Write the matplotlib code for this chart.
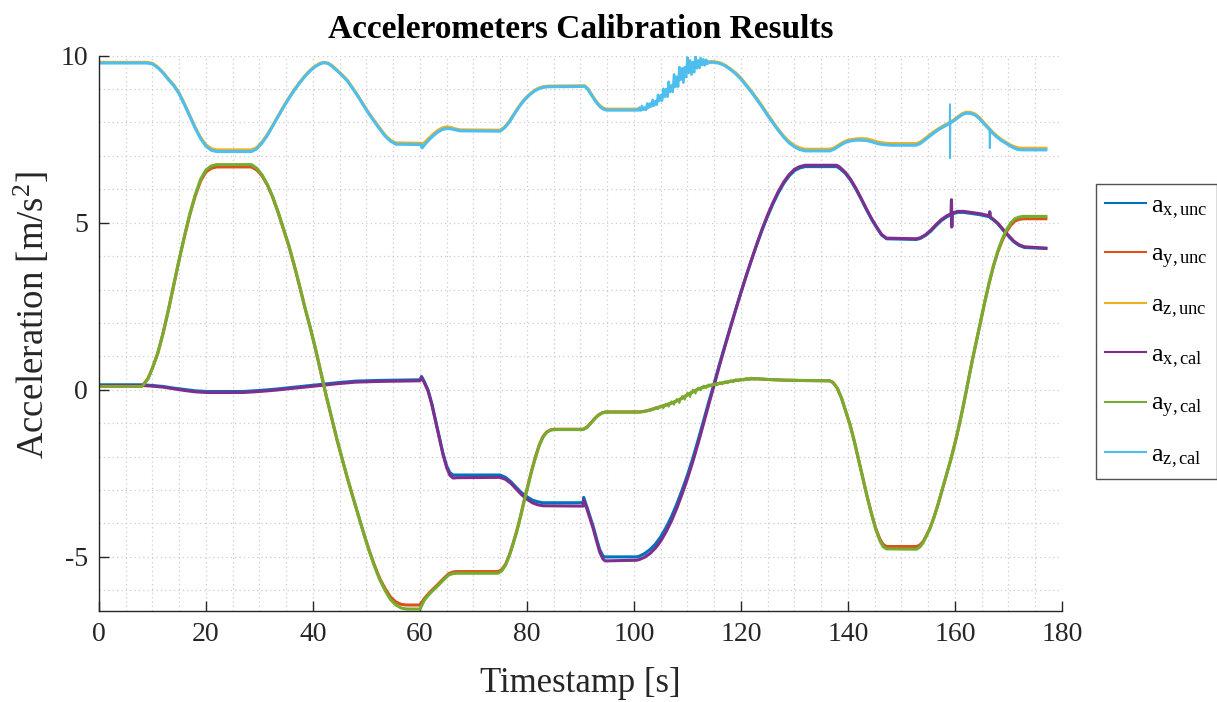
import numpy as np
import matplotlib
matplotlib.use("Agg")
import matplotlib.pyplot as plt

plt.rcParams['font.family'] = ['Liberation Serif', 'DejaVu Serif']
plt.rcParams['mathtext.fontset'] = 'custom'
plt.rcParams['mathtext.rm'] = 'Liberation Serif'
plt.rcParams['mathtext.it'] = 'Liberation Serif:italic'
plt.rcParams['axes.unicode_minus'] = False

# ---- x axis accelerometer [m/s^2] ----
t_x = [0, 8, 10, 12, 14, 16, 18, 20, 27, 30, 33, 36, 39, 42, 45, 48, 52,
       60.0, 60.3, 60.8, 61.5, 62.2, 62.9, 63.6, 64.3, 65.0, 65.6, 66.2, 66.9,
       75.0, 76.0, 77.0, 78.0, 79.0, 80.0, 81.0, 82.0, 83.0,
       90.5, 90.6, 91.2, 91.8, 92.4, 93.0, 93.6, 94.2, 94.6,
       100.5, 101, 102, 103, 104, 105, 106, 107, 108, 109, 110, 111, 112, 113,
       114, 115, 116, 117, 118, 119, 120, 121, 122, 123, 124, 125, 126, 127,
       128, 129, 130, 131, 132,
       137.9, 138.5, 139.5, 140.5, 141.5, 142.5, 143.5, 144.5, 145.5, 146.3, 147.2,
       152.8, 153.5, 154.5, 155.5, 156.5, 157.5, 158.5, 159.3, 159.35, 159.4,
       159.45, 160.5, 161.6, 163, 164.7, 166.4, 166.5, 166.6, 167.2, 168, 169,
       170, 171, 172, 173, 177]
ax_unc = [0.15, 0.15, 0.13, 0.10, 0.05, 0.01, -0.03, -0.05, -0.05, -0.02, 0.02,
          0.07, 0.12, 0.17, 0.22, 0.26, 0.28,
          0.30, 0.40, 0.25, 0.00, -0.40, -0.90, -1.40, -1.90, -2.28, -2.48, -2.55, -2.55,
          -2.55, -2.62, -2.75, -2.92, -3.08, -3.20, -3.30, -3.35, -3.38,
          -3.38, -3.22, -3.50, -3.80, -4.10, -4.45, -4.78, -4.97, -5.00,
          -5.00, -4.98, -4.90, -4.78, -4.62, -4.40, -4.12, -3.80, -3.42, -3.00,
          -2.55, -2.05, -1.50, -0.93, -0.35, 0.20, 0.78, 1.33, 1.87, 2.40, 2.92,
          3.42, 3.90, 4.36, 4.80, 5.20, 5.57, 5.90, 6.18, 6.40, 6.56, 6.64, 6.68,
          6.68, 6.62, 6.48, 6.27, 6.00, 5.70, 5.38, 5.08, 4.82, 4.63, 4.52,
          4.50, 4.53, 4.62, 4.75, 4.92, 5.07, 5.18, 5.24, 5.65, 4.90, 5.26, 5.31,
          5.31, 5.28, 5.24, 5.18, 5.30, 5.15, 5.08, 4.97, 4.78, 4.60, 4.43, 4.32,
          4.26, 4.23]
ax_cal = [0.13, 0.13, 0.11, 0.08, 0.03, -0.02, -0.06, -0.08, -0.08, -0.05, -0.01,
          0.04, 0.09, 0.14, 0.19, 0.23, 0.25,
          0.27, 0.37, 0.22, -0.03, -0.43, -0.93, -1.43, -1.93, -2.33, -2.56, -2.64, -2.63,
          -2.62, -2.68, -2.80, -2.97, -3.14, -3.27, -3.38, -3.44, -3.47,
          -3.48, -3.30, -3.56, -3.86, -4.16, -4.52, -4.86, -5.06, -5.12,
          -5.10, -5.08, -5.01, -4.90, -4.74, -4.53, -4.25, -3.93, -3.55, -3.12,
          -2.66, -2.15, -1.60, -1.02, -0.43, 0.14, 0.73, 1.29, 1.84, 2.38, 2.91,
          3.42, 3.91, 4.38, 4.83, 5.24, 5.61, 5.94, 6.22, 6.44, 6.60, 6.68, 6.72,
          6.72, 6.66, 6.51, 6.30, 6.03, 5.72, 5.40, 5.10, 4.84, 4.65, 4.54,
          4.52, 4.55, 4.64, 4.78, 4.95, 5.10, 5.21, 5.27, 5.69, 4.87, 5.29, 5.34,
          5.34, 5.31, 5.27, 5.21, 5.33, 5.18, 5.10, 4.99, 4.80, 4.62, 4.45, 4.34,
          4.28, 4.24]

# ---- y axis accelerometer ----
t_y = [0, 8, 8.5, 9.2, 10, 11, 12, 13, 14, 15, 16, 17, 18, 19, 20, 21, 22,
       28.5, 29.5, 30.5, 31.5, 32.5, 33.5, 34.5, 35.5, 36.5, 37.5, 38.5, 39.5,
       40.5, 41.5, 42.5, 43.5, 44.5, 45.5, 46.5, 47.5, 48.5, 49.5, 50.5, 51.5,
       52.5, 53.5, 54.5, 55.5, 56.5, 57.5,
       60.0, 60.2, 60.8, 61.5, 62.2, 63.0, 63.8, 64.6, 65.4, 66.2, 67.0,
       74.6, 75.3, 76.0, 76.7, 77.4, 78.1, 78.8, 79.5, 80.2, 80.9, 81.6, 82.3,
       83.0, 83.7, 84.4, 85.0,
       90.5, 91.2, 91.9, 92.6, 93.3, 94.0, 94.7,
       101, 102, 103, 104, 105, 106, 107, 108, 109, 110, 111, 112, 113, 114,
       115, 116, 117, 118, 119, 120, 121, 122, 123,
       125, 128, 131, 136.6,
       137.2, 138, 138.8, 139.6, 140.4, 141.2, 142, 142.8, 143.6, 144.4, 145.2,
       146, 146.6, 147.2,
       152.8, 153.4, 154, 154.6, 155.3, 156, 156.8, 157.6, 158.4, 159.2, 160,
       160.8, 161.6, 162.4, 163.2, 164, 164.8, 165.6, 166.4, 167.2, 168, 168.8,
       169.6, 170.4, 171.2, 172, 172.8, 177]
ay_unc = [0.12, 0.12, 0.20, 0.35, 0.65, 1.10, 1.70, 2.40, 3.15, 3.90, 4.60, 5.25,
          5.80, 6.25, 6.52, 6.63, 6.67,
          6.67, 6.58, 6.40, 6.12, 5.75, 5.30, 4.80, 4.30, 3.72, 3.10, 2.45, 1.85,
          1.20, 0.50, -0.20, -0.85, -1.50, -2.10, -2.68, -3.23, -3.76, -4.30,
          -4.80, -5.25, -5.65, -5.95, -6.20, -6.35, -6.42, -6.44,
          -6.44, -6.40, -6.25, -6.12, -6.00, -5.88, -5.75, -5.62, -5.50, -5.45, -5.44,
          -5.44, -5.38, -5.22, -4.95, -4.60, -4.22, -3.78, -3.30, -2.85, -2.40,
          -2.00, -1.65, -1.40, -1.26, -1.20, -1.18,
          -1.18, -1.12, -1.00, -0.87, -0.76, -0.69, -0.66,
          -0.66, -0.64, -0.60, -0.55, -0.50, -0.45, -0.40, -0.33, -0.25, -0.15,
          -0.06, 0.02, 0.08, 0.12, 0.16, 0.19, 0.22, 0.25, 0.28, 0.30, 0.32, 0.33, 0.33,
          0.31, 0.29, 0.28, 0.27,
          0.22, 0.05, -0.25, -0.65, -1.05, -1.55, -2.10, -2.65, -3.20, -3.70, -4.15,
          -4.48, -4.63, -4.69,
          -4.69, -4.65, -4.55, -4.38, -4.15, -3.85, -3.45, -3.00, -2.55, -2.10, -1.60,
          -1.05, -0.45, 0.20, 0.85, 1.45, 2.05, 2.65, 3.20, 3.70, 4.12, 4.45, 4.72,
          4.92, 5.05, 5.10, 5.12, 5.12]
ay_cal = [0.10, 0.10, 0.18, 0.34, 0.65, 1.10, 1.70, 2.40, 3.15, 3.90, 4.61, 5.27,
          5.84, 6.30, 6.58, 6.70, 6.74,
          6.74, 6.63, 6.43, 6.14, 5.77, 5.32, 4.82, 4.32, 3.74, 3.12, 2.47, 1.87,
          1.22, 0.52, -0.18, -0.83, -1.48, -2.08, -2.67, -3.22, -3.76, -4.31,
          -4.82, -5.28, -5.69, -6.01, -6.28, -6.44, -6.53, -6.56,
          -6.56, -6.50, -6.30, -6.16, -6.04, -5.92, -5.79, -5.66, -5.54, -5.50, -5.49,
          -5.49, -5.42, -5.25, -4.97, -4.62, -4.24, -3.80, -3.32, -2.87, -2.42,
          -2.02, -1.67, -1.42, -1.27, -1.21, -1.19,
          -1.19, -1.13, -1.01, -0.88, -0.77, -0.70, -0.67,
          -0.67, -0.65, -0.61, -0.56, -0.51, -0.46, -0.40, -0.33, -0.25, -0.15,
          -0.06, 0.02, 0.08, 0.12, 0.16, 0.19, 0.22, 0.25, 0.28, 0.30, 0.32, 0.33, 0.33,
          0.31, 0.29, 0.28, 0.27,
          0.22, 0.05, -0.25, -0.65, -1.05, -1.55, -2.10, -2.65, -3.21, -3.72, -4.18,
          -4.53, -4.70, -4.76,
          -4.77, -4.71, -4.59, -4.40, -4.16, -3.86, -3.45, -3.00, -2.55, -2.10, -1.60,
          -1.05, -0.45, 0.20, 0.85, 1.45, 2.05, 2.65, 3.21, 3.72, 4.15, 4.50, 4.78,
          4.99, 5.12, 5.17, 5.19, 5.19]

# calibrated y: jitter while slowly rising (104-123 s)
t_y_noise = [104.0, 104.5, 105.0, 105.5, 106.0, 106.5, 107.0, 107.5, 108.0,
             108.5, 109.0, 109.5, 110.0, 110.5, 111.0, 111.5, 112.0, 112.5,
             113.0, 113.5, 114.0, 114.5, 115.0, 115.5, 116.0, 116.5, 117.0,
             117.5, 118.0, 118.5, 119.0, 119.5, 120.0, 120.5, 121.0, 121.5,
             122.0, 122.5, 123.0]
ay_cal_noise = [-0.52, -0.58, -0.47, -0.56, -0.41, -0.51, -0.34, -0.45, -0.27,
                -0.40, -0.18, -0.30, -0.08, -0.22, 0.01, -0.12, 0.07, -0.02,
                0.13, 0.04, 0.17, 0.09, 0.20, 0.13, 0.23, 0.16, 0.26, 0.19,
                0.29, 0.22, 0.32, 0.25, 0.34, 0.27, 0.36, 0.29, 0.37, 0.30, 0.35]

# ---- z axis accelerometer ----
t_z = [0, 9, 10, 11, 12, 13, 14, 15, 16, 17, 18, 19, 20, 21, 22,
       28.5, 29.5, 30.5, 31.5, 32.5, 33.5, 34.5, 35.5, 36.5, 37.5, 38.5, 39.5,
       40.5, 41.3, 42, 42.8, 43.6, 44.5, 45.5, 46.5, 47.5, 48.5, 49.5, 50.5,
       51.5, 52.5, 53.5, 54.5, 55.5,
       60.2, 60.4, 61, 61.8, 62.6, 63.4, 64.2, 65, 65.8, 66.6, 67.5,
       75, 75.8, 76.6, 77.4, 78.2, 79, 79.8, 80.6, 81.4, 82.2, 83, 84,
       90.8, 91.4, 92, 92.6, 93.2, 93.8, 94.4, 95,
       100.8, 102, 103, 104, 105, 106, 107, 108, 109, 110, 111, 112, 113, 114,
       115, 116, 117, 118, 119, 120, 121, 122, 123, 124, 125, 126, 127, 128,
       129, 130, 131, 132,
       136.6, 137.4, 138.2, 139, 139.8, 140.6, 141.5, 142.5, 143.5, 144.5,
       145.5, 146.5, 148,
       152.8, 153.6, 154.4, 155.2, 156, 156.8, 157.6, 158.4, 159, 159.8, 160.6,
       161.4, 162.2, 163, 163.8, 164.6, 165.4, 166.2, 167, 167.8, 168.6, 169.4,
       170.2, 171, 171.8, 172.6, 177]
az_unc = [9.80, 9.80, 9.77, 9.66, 9.50, 9.30, 9.12, 8.88, 8.55, 8.20, 7.85, 7.55,
          7.33, 7.22, 7.18,
          7.18, 7.25, 7.42, 7.65, 7.92, 8.20, 8.48, 8.74, 8.98, 9.20, 9.40, 9.57,
          9.70, 9.77, 9.80, 9.78, 9.70, 9.57, 9.42, 9.25, 9.02, 8.78, 8.52, 8.27,
          8.05, 7.83, 7.62, 7.47, 7.39,
          7.38, 7.35, 7.42, 7.55, 7.67, 7.77, 7.84, 7.87, 7.85, 7.81, 7.78,
          7.77, 7.86, 8.01, 8.21, 8.41, 8.59, 8.74, 8.86, 8.96, 9.03, 9.07, 9.09,
          9.10, 9.01, 8.86, 8.71, 8.58, 8.48, 8.42, 8.40,
          8.40, 8.43, 8.51, 8.61, 8.74, 8.89, 9.06, 9.23, 9.41, 9.56, 9.67, 9.75,
          9.80, 9.82, 9.82, 9.79, 9.72, 9.61, 9.49, 9.33, 9.13, 8.93, 8.71, 8.48,
          8.24, 8.01, 7.79, 7.59, 7.43, 7.31, 7.24, 7.20,
          7.20, 7.24, 7.32, 7.40, 7.46, 7.49, 7.51, 7.52, 7.51, 7.47, 7.42, 7.39, 7.37,
          7.37, 7.42, 7.52, 7.62, 7.72, 7.80, 7.88, 7.95, 8.00, 8.08, 8.18, 8.27,
          8.31, 8.30, 8.25, 8.14, 8.00, 7.86, 7.72, 7.60, 7.50, 7.42, 7.34, 7.28,
          7.24, 7.23, 7.23]
az_cal = [9.78, 9.78, 9.75, 9.64, 9.48, 9.28, 9.10, 8.86, 8.53, 8.18, 7.83, 7.52,
          7.29, 7.17, 7.13,
          7.13, 7.21, 7.39, 7.62, 7.90, 8.18, 8.46, 8.72, 8.96, 9.18, 9.38, 9.55,
          9.68, 9.75, 9.79, 9.77, 9.68, 9.55, 9.40, 9.23, 9.00, 8.76, 8.50, 8.25,
          8.02, 7.80, 7.59, 7.44, 7.35,
          7.34, 7.24, 7.36, 7.50, 7.62, 7.72, 7.79, 7.82, 7.81, 7.78, 7.75,
          7.74, 7.84, 7.99, 8.19, 8.39, 8.57, 8.72, 8.84, 8.94, 9.01, 9.05, 9.07,
          9.08, 8.99, 8.84, 8.69, 8.56, 8.45, 8.39, 8.37,
          8.37, 8.40, 8.48, 8.58, 8.71, 8.86, 9.03, 9.20, 9.38, 9.53, 9.64, 9.72,
          9.77, 9.80, 9.80, 9.77, 9.70, 9.59, 9.46, 9.30, 9.10, 8.90, 8.68, 8.45,
          8.21, 7.98, 7.76, 7.56, 7.39, 7.27, 7.19, 7.15,
          7.15, 7.20, 7.28, 7.36, 7.42, 7.45, 7.47, 7.47, 7.46, 7.42, 7.37, 7.34, 7.32,
          7.32, 7.38, 7.48, 7.58, 7.68, 7.77, 7.85, 7.92, 7.97, 8.05, 8.15, 8.24,
          8.28, 8.27, 8.22, 8.11, 7.97, 7.83, 7.69, 7.57, 7.47, 7.39, 7.31, 7.24,
          7.19, 7.18, 7.18]

# calibrated z: vibration between 101 s and 114 s
t_z_noise = [101.0, 101.25, 101.5, 101.75, 102.0, 102.25, 102.5, 102.75, 103.0,
             103.25, 103.5, 103.75, 104.0, 104.25, 104.5, 104.75, 105.0, 105.25,
             105.5, 105.75, 106.0, 106.25, 106.5, 106.75, 107.0, 107.25, 107.5,
             107.75, 108.0, 108.25, 108.5, 108.75, 109.0, 109.25, 109.5, 109.75,
             110.0, 110.25, 110.5, 110.75, 111.0, 111.25, 111.5, 111.75, 112.0,
             112.25, 112.5, 112.75, 113.0, 113.25, 113.5, 113.75]
az_cal_noise = [8.44, 8.36, 8.50, 8.38, 8.44, 8.38, 8.57, 8.46, 8.57, 8.48,
                8.68, 8.50, 8.64, 8.53, 8.83, 8.65, 8.82, 8.65, 9.01, 8.77,
                9.00, 8.77, 9.22, 8.91, 9.11, 8.91, 9.44, 9.06, 9.37, 9.07,
                9.66, 9.28, 9.62, 9.19, 9.66, 9.36, 9.95, 9.48, 9.86, 9.43,
                9.81, 9.50, 9.98, 9.62, 9.86, 9.63, 9.93, 9.72, 9.89, 9.71,
                9.88, 9.76]
# single-sample spikes at 159 s and 166.5 s
t_z_spike1 = [159.0, 159.05, 159.1, 159.15]
az_cal_spike1 = [7.97, 8.55, 6.93, 8.00]
t_z_spike2 = [166.4, 166.45, 166.5, 166.55]
az_cal_spike2 = [7.81, 7.80, 7.23, 7.78]

labels = [r'$\mathrm{a}_{\mathrm{x,unc}}$', r'$\mathrm{a}_{\mathrm{y,unc}}$',
          r'$\mathrm{a}_{\mathrm{z,unc}}$', r'$\mathrm{a}_{\mathrm{x,cal}}$',
          r'$\mathrm{a}_{\mathrm{y,cal}}$', r'$\mathrm{a}_{\mathrm{z,cal}}$']
colors = ['#0072BD', '#D95319', '#EDB120', '#7E2F8E', '#77AC30', '#4DBEEE']

series = [(t_x, ax_unc), (t_y, ay_unc), (t_z, az_unc),
          (t_x, ax_cal), (t_y, ay_cal), (t_z, az_cal)]

fig = plt.figure(figsize=(12.17, 7.02), dpi=100)
ax = fig.add_axes([0.0813, 0.1296, 0.7913, 0.7911])

lines = []
for (t, a), c, lab in zip(series, colors, labels):
    ln, = ax.plot(t, a, color=c, lw=2.2, label=lab)
    lines.append(ln)
    if c == '#77AC30':
        ax.plot(t_y_noise, ay_cal_noise, color=c, lw=1.2)

ax.plot(t_z_noise, az_cal_noise, color=colors[5], lw=1.8)
ax.plot(t_z_spike1, az_cal_spike1, color=colors[5], lw=1.3)
ax.plot(t_z_spike2, az_cal_spike2, color=colors[5], lw=1.3)

ax.set_xlim(0, 180)
ax.set_ylim(-6.62, 10)
ax.set_xticks(np.arange(0, 181, 20))
ax.set_yticks([-5, 0, 5, 10])
ax.set_xticks(np.arange(0, 181, 5), minor=True)
ax.set_yticks(np.arange(-6, 11, 1), minor=True)

grey = '#262626'
ax.grid(which='both', ls=(0, (1, 2.5)), color='#cccccc', lw=0.9)
ax.set_axisbelow(True)
for s in ['top', 'right']:
    ax.spines[s].set_visible(False)
for s in ['left', 'bottom']:
    ax.spines[s].set_color(grey)
    ax.spines[s].set_linewidth(1.0)
ax.tick_params(which='major', direction='in', length=7, width=1.0,
               colors=grey, labelsize=20, pad=8)
ax.tick_params(which='minor', length=0)

ax.set_title('Accelerometers Calibration Results', fontsize=24,
             fontweight='bold', pad=13)
ax.set_xlabel('Timestamp [s]', fontsize=25, color=grey, labelpad=14)
ax.set_ylabel('Acceleration [m/s$^2$]', fontsize=26.5, color=grey)
ax.yaxis.set_label_coords(-0.049, 0.533)

leg = ax.legend(lines, labels, loc='center left', bbox_to_anchor=(0.9006, 0.5275),
                bbox_transform=fig.transFigure, fontsize=19, frameon=True,
                fancybox=False, edgecolor=grey, handlelength=1.55,
                handletextpad=0.2, labelspacing=0.85, borderpad=0.35,
                borderaxespad=0)
leg.get_frame().set_linewidth(1.0)
for h in leg.get_lines():
    h.set_linewidth(1.5)

fig.savefig('out.png', dpi=100)
